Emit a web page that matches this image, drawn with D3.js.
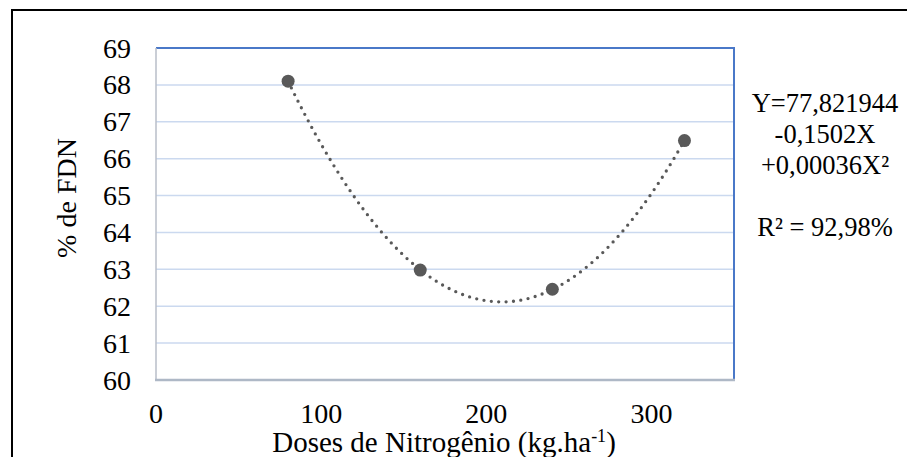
<!DOCTYPE html>
<html>
<head>
<meta charset="utf-8">
<script src="https://cdn.jsdelivr.net/npm/d3@7"></script>
<style>
  body { margin: 0; background: #fff; }
  svg text { font-family: "Liberation Serif", "Times New Roman", serif; fill: #000; }
</style>
</head>
<body>
<svg id="chart" width="907" height="457" font-family="Liberation Serif, serif"></svg>
<script>
// data
var doses = [80, 160, 240, 320];
var fdn = [68.1, 62.98, 62.46, 66.49];
var yTicks = [60, 61, 62, 63, 64, 65, 66, 67, 68, 69];
var xTicks = [0, 100, 200, 300];
var eqLines = ["Y=77,821944", "-0,1502X", "+0,00036X\u00b2", "", "R\u00b2 = 92,98%"];

const svg = d3.select('#chart');

var x = d3.scaleLinear([0, 350], [156, 734]);
var y = d3.scaleLinear([60, 69], [380, 48]);

// outer frame (right/bottom edges fall outside the picture)
svg.append("rect")
    .attr("x", 12).attr("y", 10)
    .attr("width", 1000).attr("height", 1000)
    .attr("fill", "none")
    .attr("stroke", "#000")
    .attr("stroke-width", 2);

// gridlines
svg.append("g")
    .selectAll("line")
    .data(yTicks.filter(function(d){ return d > 60 && d < 69; }))
    .enter().append("line")
    .attr("x1", x(0)).attr("x2", x(350))
    .attr("y1", function(d){ return y(d); })
    .attr("y2", function(d){ return y(d); })
    .attr("stroke", "#cbd9ef")
    .attr("stroke-width", 1.5);

// plot area border: top/right blue, left/bottom grey axis lines
svg.append("path")
    .attr("d", "M" + x(0) + "," + y(69) + "H" + x(350) + "V" + y(60))
    .attr("fill", "none")
    .attr("stroke", "#4a78c8")
    .attr("stroke-width", 2);
svg.append("line")
    .attr("x1", x(0)).attr("x2", x(0))
    .attr("y1", y(69)).attr("y2", y(60))
    .attr("stroke", "#b8bec8").attr("stroke-width", 1.5);
svg.append("line")
    .attr("x1", x(0) - 1).attr("x2", x(350) + 1)
    .attr("y1", y(60)).attr("y2", y(60))
    .attr("stroke", "#aeb8c6").attr("stroke-width", 2.5);

// y tick labels
svg.append("g")
    .selectAll("text")
    .data(yTicks)
    .enter().append("text")
    .attr("x", 131)
    .attr("y", function(d){ return y(d); })
    .attr("dy", "0.34em")
    .attr("text-anchor", "end")
    .attr("font-size", 28)
    .text(function(d){ return d; });

// x tick labels
svg.append("g")
    .selectAll("text")
    .data(xTicks)
    .enter().append("text")
    .attr("x", function(d){ return x(d); })
    .attr("y", 423)
    .attr("text-anchor", "middle")
    .attr("font-size", 28)
    .text(function(d){ return d; });

// axis titles
svg.append("text")
    .attr("transform", "translate(76,198) rotate(-90)")
    .attr("text-anchor", "middle")
    .attr("font-size", 28)
    .text("% de FDN");

var xTitle = svg.append("text")
    .attr("x", 444)
    .attr("y", 452)
    .attr("text-anchor", "middle")
    .attr("font-size", 29);
xTitle.append("tspan").text("Doses de Nitrog\u00eanio (kg.ha");
xTitle.append("tspan").attr("dy", -10).attr("font-size", 18).text("-1");
xTitle.append("tspan").attr("dy", 10).text(")");

// quadratic least-squares trendline from the points
function fitQuad(xs, ys) {
    var s = [0, 0, 0, 0, 0], t = [0, 0, 0];
    xs.forEach(function(xi, i) {
        for (var k = 0; k < 5; k++) s[k] += Math.pow(xi, k);
        for (var k = 0; k < 3; k++) t[k] += ys[i] * Math.pow(xi, k);
    });
    var m = [[s[0], s[1], s[2], t[0]], [s[1], s[2], s[3], t[1]], [s[2], s[3], s[4], t[2]]];
    for (var i = 0; i < 3; i++) {
        for (var j = i + 1; j < 3; j++) {
            var f = m[j][i] / m[i][i];
            for (var k = i; k < 4; k++) m[j][k] -= f * m[i][k];
        }
    }
    var c = [0, 0, 0];
    for (var i = 2; i >= 0; i--) {
        var v = m[i][3];
        for (var k = i + 1; k < 3; k++) v -= m[i][k] * c[k];
        c[i] = v / m[i][i];
    }
    return c;
}
var coef = fitQuad(doses, fdn);
var trend = d3.range(doses[0], doses[doses.length - 1] + 0.5, 2).map(function(d) {
    return [d, coef[0] + coef[1] * d + coef[2] * d * d];
});

svg.append("path")
    .datum(trend)
    .attr("d", d3.line()
        .x(function(d){ return x(d[0]); })
        .y(function(d){ return y(d[1]); })
        .curve(d3.curveBasis))
    .attr("fill", "none")
    .attr("stroke", "#595959")
    .attr("stroke-width", 3.3)
    .attr("stroke-linecap", "round")
    .attr("stroke-dasharray", "0 7.4");

// markers
svg.append("g")
    .selectAll("circle")
    .data(doses)
    .enter().append("circle")
    .attr("cx", function(d){ return x(d); })
    .attr("cy", function(d, i){ return y(fdn[i]); })
    .attr("r", 6.5)
    .attr("fill", "#595959");

// equation text
svg.append("g")
    .selectAll("text")
    .data(eqLines)
    .enter().append("text")
    .attr("x", 825)
    .attr("y", function(d, i){ return 112 + i * 31; })
    .attr("text-anchor", "middle")
    .attr("font-size", 26.5)
    .text(function(d){ return d; });
</script>
</body>
</html>
